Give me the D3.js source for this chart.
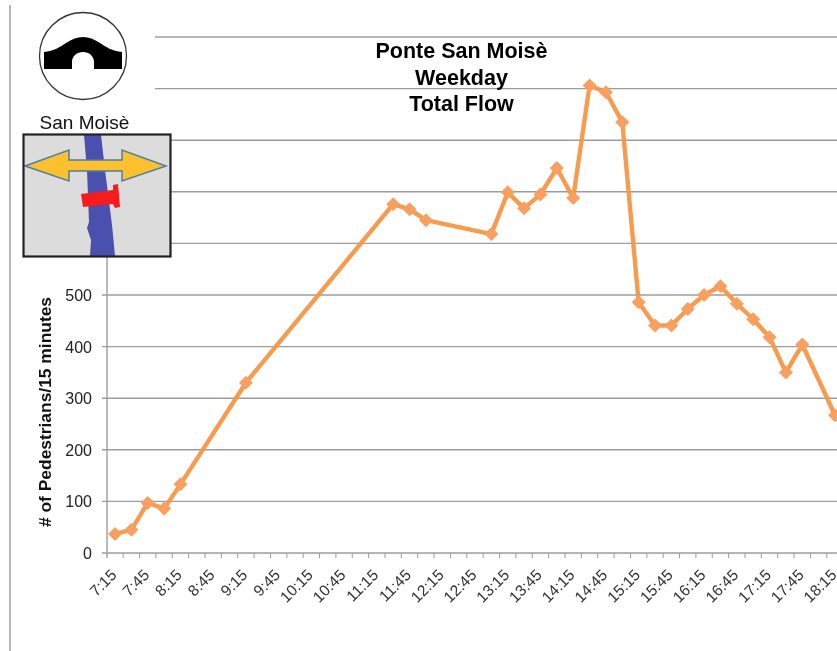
<!DOCTYPE html>
<html><head><meta charset="utf-8">
<script src="https://cdn.jsdelivr.net/npm/d3@7"></script>
<style>html,body{margin:0;background:#fff}svg{display:block;filter:blur(0.45px)}text{font-family:"Liberation Sans",Arial,sans-serif}</style>
</head><body><div id="chart"></div>
<script>
const times = ["7:15","7:30","7:45","8:00","8:15","8:30","8:45","9:00","9:15","9:30","9:45","10:00","10:15","10:30","10:45","11:00","11:15","11:30","11:45","12:00","12:15","12:30","12:45","13:00","13:15","13:30","13:45","14:00","14:15","14:30","14:45","15:00","15:15","15:30","15:45","16:00","16:15","16:30","16:45","17:00","17:15","17:30","17:45","18:00","18:15"];
const flow = [37,45,97,86,133,null,null,null,330,null,null,null,null,null,null,null,null,676,666,645,null,null,null,618,699,668,695,746,688,906,893,835,486,441,441,473,500,517,483,453,418,350,404,null,267];
const yTicks = [0,100,200,300,400,500];
const gridValues = [0,100,200,300,400,500,600,700,800,900,1000];
const titleLines = ["Ponte San Moisè","Weekday","Total Flow"];
const yLabel = "# of Pedestrians/15 minutes";
const iconLabel = "San Moisè";

const W=837,H=651;
const svg=d3.select("#chart").append("svg").attr("width",W).attr("height",H);
const y=d3.scaleLinear().domain([0,1000]).range([553,37]);
const x=d3.scalePoint().domain(times).range([115,835]);
const step=x.step();

svg.append("line").attr("x1",10).attr("x2",10).attr("y1",5).attr("y2",H).attr("stroke","#8a8a8a").attr("stroke-width",1.2);

svg.append("g").selectAll("line").data(gridValues).join("line")
 .attr("x1",102).attr("x2",W).attr("y1",d=>y(d)).attr("y2",d=>y(d))
 .attr("stroke","#9c9c9c").attr("stroke-width",1.4);
svg.append("line").attr("x1",107).attr("x2",107).attr("y1",y(1000)).attr("y2",558).attr("stroke","#9c9c9c").attr("stroke-width",1.4);
svg.append("g").selectAll("line").data(times).join("line")
 .attr("x1",d=>x(d)+step/2).attr("x2",d=>x(d)+step/2).attr("y1",553).attr("y2",558)
 .attr("stroke","#9c9c9c");

svg.append("g").selectAll("text").data(yTicks).join("text")
 .attr("x",92).attr("y",d=>y(d)+6).attr("text-anchor","end").attr("font-size",16).attr("fill","#222").text(d=>d);
svg.append("text").attr("transform","translate(50.5,412) rotate(-90)").attr("text-anchor","middle")
 .attr("font-size",17.4).attr("font-weight","bold").attr("fill","#111").text(yLabel);

svg.append("g").selectAll("text").data(times.filter((d,i)=>i%2===0)).join("text")
 .attr("transform",d=>`translate(${x(d)+2.5},${576}) rotate(-45)`)
 .attr("text-anchor","end").attr("font-size",15.5).attr("fill","#333").text(d=>d);

const present=times.map((t,i)=>({t,v:flow[i]})).filter(d=>d.v!==null);
const line=d3.line().x(d=>x(d.t)).y(d=>y(d.v));
svg.append("path").datum(present).attr("d",line).attr("fill","none").attr("stroke","#f79646").attr("stroke-width",4.4).attr("stroke-linejoin","round").attr("opacity",.95);
svg.append("g").selectAll("path").data(present).join("path")
 .attr("transform",d=>`translate(${x(d.t)},${y(d.v)})`)
 .attr("d",d3.symbol().type(d3.symbolDiamond2).size(125)).attr("fill","#f9a060");

// overlay icons
svg.append("rect").attr("x",100).attr("y",0).attr("width",55).attr("height",134).attr("fill","#fff");
svg.append("circle").attr("cx",83).attr("cy",56).attr("r",43.5).attr("fill","#fff").attr("stroke","#333").attr("stroke-width",1.3);
svg.append("path").attr("d","M44,52 C54,51 60,47 66,43 C72,39 77,37 83,37 C89,37 94,39 100,43 C106,47 112,51 122,52 L122,69 L94,69 L94,62 C94,56 89,52 83,52 C77,52 72,56 72,62 L72,69 L44,69 Z").attr("fill","#000");
svg.append("text").attr("x",84.5).attr("y",129).attr("text-anchor","middle").attr("font-size",19).attr("fill","#111").text(iconLabel);
svg.append("rect").attr("x",23.5).attr("y",134.5).attr("width",147).attr("height",122).attr("fill","#dcdcdc");
svg.append("path").attr("d","M84,135 L101,135 L105,170 L112,225 L115,256 L90,256 L91,240 L87,228 L89,222 L87,170 Z").attr("fill","#4b4fae");
svg.append("path").attr("d","M25,166 L69,150 L69,160 L122,160 L122,150 L166,166 L122,181 L122,171 L69,171 L69,181 Z").attr("fill","#fdc02f").attr("stroke","#4f7f9f").attr("stroke-width",1.5);
svg.append("path").attr("d","M81,194 L113,190 L113,185 L118,184 L120,207 L115,208 L113,204 L83,207 Z").attr("fill","#f41c1c");
svg.append("rect").attr("x",23.5).attr("y",134.5).attr("width",147).attr("height",122).attr("fill","none").attr("stroke","#222").attr("stroke-width",2.2);

svg.append("g").selectAll("text").data(titleLines).join("text")
 .attr("x",461.5).attr("y",(d,i)=>58+i*26.5).attr("text-anchor","middle").attr("font-size",21.5).attr("font-weight","bold").attr("fill","#000").text(d=>d);
</script></body></html>
